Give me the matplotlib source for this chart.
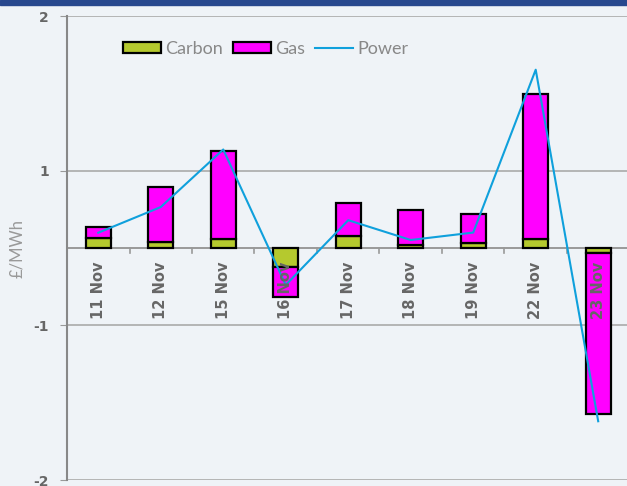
# -*- coding: utf-8 -*-
"""
daily price change decomposition: carbon / gas / power
"""
#%% Imports

import matplotlib.pyplot as plt
from matplotlib.patches import Rectangle
import numpy as np

#%% Data (axis units as drawn)

days = ['11 Nov', '12 Nov', '15 Nov', '16 Nov', '17 Nov',
        '18 Nov', '19 Nov', '22 Nov', '23 Nov']
carbon = [0.065, 0.039, 0.058, -0.124, 0.079, 0.020, 0.030, 0.058, -0.034]
gas = [0.072, 0.355, 0.568, -0.190, 0.210, 0.225, 0.190, 0.935, -1.037]
power = [0.099, 0.265, 0.637, -0.239, 0.180, 0.052, 0.100, 1.153, -1.120]

yticks = [1.5, 0.5, -0.5, -1.5]
ytick_labels = ['2', '1', '-1', '-2']

#%% Style

bg = '#eff3f7'
grey = '#666666'
c_carbon = '#b5c92e'
c_gas = '#ff00ff'
c_power = '#0fa0dc'
plt.rcParams['font.family'] = ['Lato', 'DejaVu Sans']

#%% Plot

fig = plt.figure(figsize=(6.27, 4.86), dpi=100)
fig.patch.set_facecolor(bg)
# dark band at top of the panel
fig.add_artist(Rectangle((0, 0.99), 1, 0.01, transform=fig.transFigure,
                         color='#28488e', zorder=0))

ax = fig.add_axes([0.1069, 0.0123, 0.897, 0.9547])
ax.set_facecolor(bg)

x = np.arange(len(days))
h_c = ax.bar(x, carbon, 0.4, color=c_carbon, edgecolor='black',
             linewidth=1.6, label='Carbon', zorder=3)
h_g = ax.bar(x, gas, 0.4, bottom=carbon, color=c_gas, edgecolor='black',
             linewidth=1.6, label='Gas', zorder=3)
h_p, = ax.plot(x, power, color=c_power, lw=1.5, label='Power', zorder=4)

ax.set_xlim(-0.5, len(days) - 0.5)
ax.set_ylim(-1.5, 1.5)
ax.set_yticks(yticks)
ax.set_yticklabels(ytick_labels, fontweight='bold', color=grey, fontsize=10,
                   family='DejaVu Sans')
ax.tick_params(axis='y', length=5, color='#999999', pad=8)
ax.set_xticks([])
ax.grid(False)
for yv in yticks:
    ax.axhline(yv, color='#aaaaaa', lw=1.2, zorder=1)

# category axis sits at zero
ax.axhline(0, color='#999999', lw=1.4, zorder=2)
for b in x[:-1] + 0.5:
    ax.plot([b, b], [0, -0.035], color='#999999', lw=1.2, zorder=2)
for i, d in enumerate(days):
    ax.annotate(d, (i, 0), xytext=(0, -10), textcoords='offset points',
                rotation=90, ha='center', va='top', fontsize=10.5,
                fontweight='bold', color=grey, family='DejaVu Sans',
                zorder=5)

for s in ['top', 'right', 'bottom']:
    ax.spines[s].set_visible(False)
ax.spines['left'].set_color('#888888')
ax.spines['left'].set_linewidth(1.5)

ax.set_ylabel('£/MWh', color='#999999', fontsize=12, labelpad=6)

leg = ax.legend([h_c, h_g, h_p], ['Carbon', 'Gas', 'Power'],
                loc='upper left', bbox_to_anchor=(0.07, 0.982), ncol=3,
                frameon=False, fontsize=13,
                handlelength=2.1, handleheight=0.6, columnspacing=0.55,
                handletextpad=0.25)
for t in leg.get_texts():
    t.set_color('#888888')

plt.savefig('out.png', dpi=100, facecolor=fig.get_facecolor())
